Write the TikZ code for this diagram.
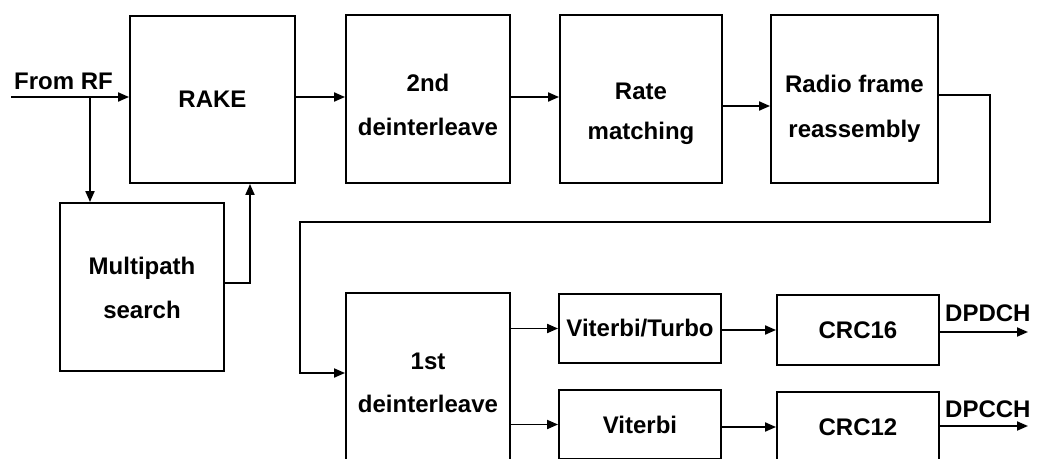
\documentclass[tikz,border=0pt]{standalone}
\usepackage{fontspec}
\setmainfont{Liberation Sans}
\usetikzlibrary{arrows.meta,calc}
\newcommand{\twoln}[4]{\smash{\raisebox{-#1}{\begin{tabular}{@{}c@{}}#3\\[#2]#4\end{tabular}}}}
\begin{document}
\begin{tikzpicture}[x=1pt,y=-1pt,
  blk/.style={draw=black,line width=1.9pt,fill=white,inner sep=0pt,align=center,
    font=\fontsize{24}{44}\selectfont\bfseries},
  conn/.style={draw=black,line width=1.9pt},
  arr/.style={conn,-{Triangle[length=11pt,width=9pt]}},
  lbl/.style={inner sep=0pt,font=\fontsize{24}{28}\selectfont\bfseries}]
\useasboundingbox (0,0) rectangle (1044,458);
\clip (0,0) rectangle (1044,458);
\fill[white] (0,0) rectangle (1044,458);
% blocks
\node[blk,minimum width=165pt,minimum height=167pt] (rake) at (212.5,99.5) {RAKE};
\node[blk,minimum width=164pt,minimum height=168pt] (deint2) at (428,99) {\twoln{12pt}{0pt}{2nd}{deinterleave}};
\node[blk,minimum width=162pt,minimum height=168pt] (rate) at (641,99) {\twoln{18pt}{-4pt}{Rate}{matching}};
\node[blk,minimum width=167pt,minimum height=168pt] (radio) at (854.5,99) {\twoln{13pt}{1pt}{Radio frame}{reassembly}};
\node[blk,minimum width=164pt,minimum height=168pt] (multi) at (142,287) {\twoln{7pt}{0pt}{Multipath}{search}};
\node[blk,minimum width=164pt,minimum height=167pt] (deint1) at (428,376.5) {\twoln{12pt}{-1pt}{1st}{deinterleave}};
\node[blk,minimum width=162pt,minimum height=69pt] (vt) at (640,328.5) {Viterbi/Turbo};
\node[blk,minimum width=162pt,minimum height=69pt] (vit) at (640,424.5) {Viterbi};
\node[blk,minimum width=162pt,minimum height=70pt] (crc16) at (858,330) {CRC16};
\node[blk,minimum width=162pt,minimum height=70pt] (crc12) at (858,427) {CRC12};
% labels
\node[lbl,anchor=base west] (rflbl) at (14,89) {From RF};
\node[lbl,anchor=base west] (dpdch) at (945,321) {DPDCH};
\node[lbl,anchor=base west] (dpcch) at (945,417) {DPCCH};
% coordinates
\coordinate (rfin) at (11,97);
\coordinate (split) at (90,97);
\coordinate (out1) at (1028,332);
\coordinate (out2) at (1028,426);
% connectors
\draw[arr] (rfin) -- (rfin -| rake.west);
\draw[arr] (split) -- (split |- multi.north);
\draw[arr] (multi.east |- 0,283) -- (250,283) -- (250,183 |- rake.south);
\draw[arr] (rake.east |- 0,97) -- (deint2.west |- 0,97);
\draw[arr] (deint2.east |- 0,97) -- (rate.west |- 0,97);
\draw[arr] (rate.east |- 0,106) -- (radio.west |- 0,106);
\draw[arr] (radio.east |- 0,95) -- (990,95) -- (990,222) -- (300,222) -- (300,373) -- (deint1.west |- 0,373);
\draw[arr] (deint1.east |- vt.west) -- (vt.west);
\draw[arr] (deint1.east |- vit.west) -- (vit.west);
\draw[arr] (vt.east |- crc16.west) -- (crc16.west);
\draw[arr] (vit.east |- crc12.west) -- (crc12.west);
\draw[arr] (crc16.east |- out1) -- (out1);
\draw[arr] (crc12.east |- out2) -- (out2);
\end{tikzpicture}
\end{document}
